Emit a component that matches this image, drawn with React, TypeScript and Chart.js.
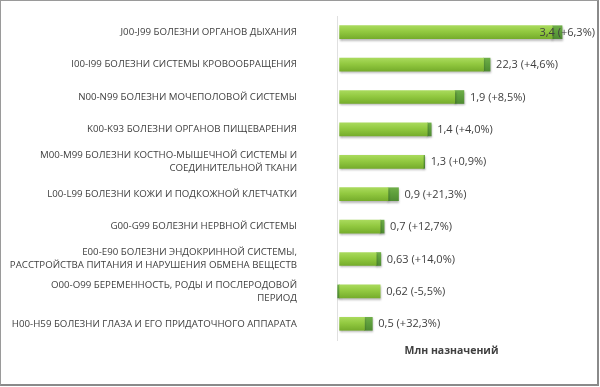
import React, { useEffect, useRef } from "react";
import { Chart, registerables } from "chart.js";

Chart.register(...registerables);

const categories: (string | string[])[] = [
  "J00-J99 БОЛЕЗНИ ОРГАНОВ ДЫХАНИЯ",
  "I00-I99 БОЛЕЗНИ СИСТЕМЫ КРОВООБРАЩЕНИЯ",
  "N00-N99 БОЛЕЗНИ МОЧЕПОЛОВОЙ СИСТЕМЫ",
  "K00-K93 БОЛЕЗНИ ОРГАНОВ ПИЩЕВАРЕНИЯ",
  ["M00-M99 БОЛЕЗНИ КОСТНО-МЫШЕЧНОЙ СИСТЕМЫ И", "СОЕДИНИТЕЛЬНОЙ ТКАНИ"],
  "L00-L99 БОЛЕЗНИ КОЖИ И ПОДКОЖНОЙ КЛЕТЧАТКИ",
  "G00-G99 БОЛЕЗНИ НЕРВНОЙ СИСТЕМЫ",
  ["E00-E90 БОЛЕЗНИ ЭНДОКРИННОЙ СИСТЕМЫ,", "РАССТРОЙСТВА ПИТАНИЯ И НАРУШЕНИЯ ОБМЕНА ВЕЩЕСТВ"],
  ["O00-O99 БЕРЕМЕННОСТЬ, РОДЫ И ПОСЛЕРОДОВОЙ", "ПЕРИОД"],
  "H00-H59 БОЛЕЗНИ ГЛАЗА И ЕГО ПРИДАТОЧНОГО АППАРАТА",
];

// previous-year level (light segment), in mln prescriptions
const baseValues = [3.25, 2.2, 1.76, 1.34, 1.28, 0.74, 0.62, 0.56, 0.62, 0.38];
// change (dark segment)
const growthValues = [0.15, 0.1, 0.14, 0.06, 0.02, 0.16, 0.06, 0.07, -0.03, 0.12];

const valueLabels = [
  "3,4 (+6,3%)",
  "22,3 (+4,6%)",
  "1,9 (+8,5%)",
  "1,4 (+4,0%)",
  "1,3 (+0,9%)",
  "0,9 (+21,3%)",
  "0,7 (+12,7%)",
  "0,63 (+14,0%)",
  "0,62 (-5,5%)",
  "0,5 (+32,3%)",
];

const axisTitle = "Млн назначений";

const FONT = "'Open Sans', 'DejaVu Sans', sans-serif";
const TEXT = "#404040";
const BAR_H = 13;

function gradientFor(ctx: any, top: string, mid: string, bottom: string) {
  const chart = ctx.chart;
  const yScale = chart.scales?.y;
  if (!yScale || ctx.dataIndex === undefined) return mid;
  const c = yScale.getPixelForValue(ctx.dataIndex);
  if (!isFinite(c)) return mid;
  const g = chart.ctx.createLinearGradient(0, c - BAR_H / 2, 0, c + BAR_H / 2);
  g.addColorStop(0, top);
  g.addColorStop(0.45, mid);
  g.addColorStop(1, bottom);
  return g;
}

const shadowPlugin = {
  id: "barShadow",
  beforeDatasetsDraw(chart: any) {
    const ctx = chart.ctx;
    ctx.save();
    ctx.shadowColor = "rgba(0,0,0,0.28)";
    ctx.shadowBlur = 2;
    ctx.shadowOffsetY = 1.5;
    ctx.shadowOffsetX = 0.5;
  },
  afterDatasetsDraw(chart: any) {
    chart.ctx.restore();
  },
};

const valueLabelPlugin = {
  id: "valueLabels",
  afterDraw(chart: any) {
    const ctx = chart.ctx;
    const xs = chart.scales.x;
    const ys = chart.scales.y;
    ctx.save();
    ctx.font = `11px ${FONT}`;
    ctx.fillStyle = TEXT;
    ctx.textBaseline = "middle";
    ctx.textAlign = "left";
    valueLabels.forEach((lbl, i) => {
      const end = baseValues[i] + Math.max(0, growthValues[i]);
      let x = xs.getPixelForValue(end) + 6;
      const w = ctx.measureText(lbl).width;
      if (x + w > chart.width - 5) x = chart.width - 5 - w;
      ctx.fillText(lbl, x, ys.getPixelForValue(i) + 0.5);
    });
    ctx.restore();
  },
};

export default function App() {
  const canvasRef = useRef<HTMLCanvasElement | null>(null);

  useEffect(() => {
    document.body.style.margin = "0";
    const canvas = canvasRef.current;
    if (!canvas) return;
    const chart = new Chart(canvas, {
      type: "bar",
      data: {
        labels: categories,
        datasets: [
          {
            label: "База",
            data: baseValues,
            backgroundColor: (ctx: any) => gradientFor(ctx, "#a9da5c", "#92c940", "#76ad2c"),
            borderWidth: 0,
            barThickness: BAR_H,
            stack: "s",
          },
          {
            label: "Изменение",
            data: growthValues,
            backgroundColor: (ctx: any) => gradientFor(ctx, "#6fae48", "#5e9f3c", "#4f8c32"),
            borderWidth: 0,
            barThickness: BAR_H,
            stack: "s",
          },
        ],
      },
      options: {
        indexAxis: "y",
        animation: false,
        responsive: false,
        maintainAspectRatio: false,
        layout: { padding: { top: 16, right: 34, bottom: 0, left: 0 } },
        plugins: {
          legend: { display: false },
          tooltip: { enabled: false },
        },
        scales: {
          x: {
            stacked: true,
            min: -0.04,
            max: 3.46,
            ticks: { display: false },
            grid: { display: false },
            border: { display: false },
            title: {
              display: true,
              text: axisTitle,
              color: TEXT,
              font: { family: FONT, size: 10.5, weight: "bold", lineHeight: 1.2 },
              padding: { top: 0, bottom: 30 },
            },
            afterFit: (scale: any) => {
              scale.height = 47;
              scale.paddingLeft = 0;
              scale.paddingRight = 0;
            },
          },
          y: {
            stacked: true,
            ticks: {
              color: TEXT,
              padding: 40,
              font: { family: FONT, size: 9.7, lineHeight: 1.34 },
              autoSkip: false,
            },
            grid: { display: false, drawTicks: false },
            border: { display: true, color: "#e0e0e0", width: 1 },
            afterFit: (scale: any) => {
              scale.width = 337;
              scale.paddingTop = 0;
              scale.paddingBottom = 0;
            },
          },
        },
      },
      plugins: [shadowPlugin, valueLabelPlugin],
    } as any);
    return () => chart.destroy();
  }, []);

  return (
    <div style={{ position: "relative", width: 600, height: 387, background: "#fff" }}>
      <canvas ref={canvasRef} width={600} height={387} style={{ display: "block" }} />
      <div
        style={{
          position: "absolute",
          left: 0,
          top: 0,
          width: 599,
          height: 386,
          boxSizing: "border-box",
          borderTop: "1px solid #9a9a9a",
          borderLeft: "1px solid #9a9a9a",
          borderRight: "2px solid #8a8a8a",
          borderBottom: "2px solid #8a8a8a",
          pointerEvents: "none",
        }}
      />
    </div>
  );
}
